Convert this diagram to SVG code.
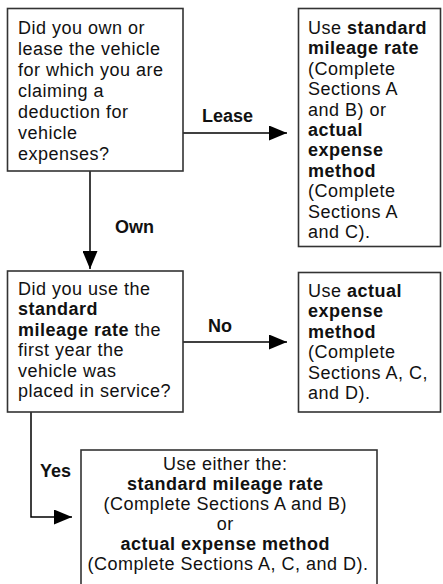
<svg xmlns="http://www.w3.org/2000/svg" width="443" height="584" viewBox="0 0 443 584">
<defs>
<marker id="ah" viewBox="0 0 18 15" refX="18" refY="7.5" markerWidth="18" markerHeight="15" markerUnits="userSpaceOnUse" orient="auto">
<path d="M0,0 L18,7.5 L0,15 Z" fill="#000"/>
</marker>
<style>
.box{fill:#fff;stroke:#333;stroke-width:1.6}
.t{font-family:"Liberation Sans",Arial,sans-serif;font-size:18px;letter-spacing:0.5px;fill:#111}
.b{font-weight:bold}
.c{text-anchor:middle}
.lbl{font-family:"Liberation Sans",Arial,sans-serif;font-size:18px;font-weight:bold;fill:#111}
.con{fill:none;stroke:#000;stroke-width:1.5}
</style>
</defs>
<rect width="443" height="584" fill="#fff"/>
<g id="connectors">
<line class="con" x1="183" y1="133" x2="287" y2="133" marker-end="url(#ah)"/>
<line class="con" x1="90" y1="171" x2="90" y2="269" marker-end="url(#ah)"/>
<line class="con" x1="183" y1="342" x2="287" y2="342" marker-end="url(#ah)"/>
<path class="con" d="M31,412 L31,517 L72,517" marker-end="url(#ah)"/>
<text class="lbl" x="202" y="122">Lease</text>
<text class="lbl" x="115" y="233">Own</text>
<text class="lbl" x="208" y="332">No</text>
<text class="lbl" x="40" y="477">Yes</text>
</g>
<g id="q1">
<rect class="box" x="7.5" y="8.5" width="175.5" height="162.5"/>
<text class="t">
<tspan x="18" y="34">Did you own or</tspan>
<tspan x="18" y="55">lease the vehicle</tspan>
<tspan x="18" y="76">for which you are</tspan>
<tspan x="18" y="97">claiming a</tspan>
<tspan x="18" y="118">deduction for</tspan>
<tspan x="18" y="139">vehicle</tspan>
<tspan x="18" y="160">expenses?</tspan>
</text>
</g>
<g id="lease">
<rect class="box" x="298.5" y="8.5" width="142" height="238"/>
<text class="t">
<tspan x="308" y="34">Use <tspan class="b">standard</tspan></tspan>
<tspan x="308" y="54.4" class="b">mileage rate</tspan>
<tspan x="308" y="74.8">(Complete</tspan>
<tspan x="308" y="95.2">Sections A</tspan>
<tspan x="308" y="115.6">and B) or</tspan>
<tspan x="308" y="136" class="b">actual</tspan>
<tspan x="308" y="156.4" class="b">expense</tspan>
<tspan x="308" y="176.8" class="b">method</tspan>
<tspan x="308" y="197.2">(Complete</tspan>
<tspan x="308" y="217.6">Sections A</tspan>
<tspan x="308" y="238">and C).</tspan>
</text>
</g>
<g id="q2">
<rect class="box" x="7.5" y="271" width="175.5" height="141"/>
<text class="t">
<tspan x="18" y="294.5">Did you use the</tspan>
<tspan x="18" y="315" class="b">standard</tspan>
<tspan x="18" y="335.5"><tspan class="b">mileage rate</tspan> the</tspan>
<tspan x="18" y="356">first year the</tspan>
<tspan x="18" y="376.5">vehicle was</tspan>
<tspan x="18" y="397">placed in service?</tspan>
</text>
</g>
<g id="no">
<rect class="box" x="298.5" y="272.5" width="142" height="139.5"/>
<text class="t">
<tspan x="308" y="296.5">Use <tspan class="b">actual</tspan></tspan>
<tspan x="308" y="317" class="b">expense</tspan>
<tspan x="308" y="337.5" class="b">method</tspan>
<tspan x="308" y="358">(Complete</tspan>
<tspan x="308" y="378.5">Sections A, C,</tspan>
<tspan x="308" y="399">and D).</tspan>
</text>
</g>
<g id="yes">
<rect class="box" x="81" y="450" width="296" height="140"/>
<text class="t c">
<tspan x="228" y="469.5">Use either the:</tspan>
<tspan x="228" y="489.5" class="b">standard mileage rate</tspan>
<tspan x="228" y="509.5">(Complete Sections A and B)</tspan>
<tspan x="228" y="529.5">or</tspan>
<tspan x="228" y="549.5" class="b">actual expense method</tspan>
<tspan x="228" y="569.5">(Complete Sections A, C, and D).</tspan>
</text>
</g>
</svg>
